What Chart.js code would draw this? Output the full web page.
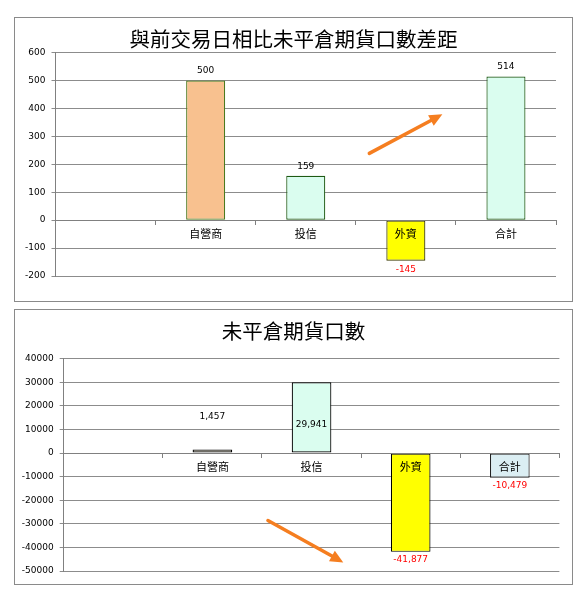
<!DOCTYPE html>
<html>
<head>
<meta charset="utf-8">
<script src="https://cdn.jsdelivr.net/npm/chart.js@4"></script>
<style>
  body { margin: 0; background: #fff; }
  .box { position: absolute; left: 14px; width: 559px; box-sizing: border-box; border: 1px solid #8a8a8a; }
  #box1 { top: 17px; height: 285px; }
  #box2 { top: 309px; height: 276px; }
  canvas { display: block; }
</style>
</head>
<body>
<div class="box" id="box1"><canvas id="diffChart" width="557" height="283"></canvas></div>
<div class="box" id="box2"><canvas id="openChart" width="557" height="274"></canvas></div>
<script>
// categories (first slot is empty, like the sheet)
var categories = ['', '自營商', '投信', '外資', '合計'];
// difference vs previous trading day
var diffValues = [null, 500, 159, -145, 514];
// open interest
var openValues = [null, 1457, 29941, -41877, -10479];
var diffTicks = [600, 500, 400, 300, 200, 100, 0, -100, -200];
var openTicks = [40000, 30000, 20000, 10000, 0, -10000, -20000, -30000, -40000, -50000];

var tickFont = { family: 'DejaVu Sans', size: 9 };
var catFont = { family: 'Noto Sans CJK TC', size: 11 };
var gridColor = '#8c8c8c';

// value labels: black above positive bars, red below negative ones
var valueLabels = {
    id: 'valueLabels',
    afterDraw: function (chart, args, opts) {
        var ctx = chart.ctx;
        var meta = chart.getDatasetMeta(0);
        var data = chart.data.datasets[0].data;
        ctx.save();
        ctx.font = '9px "DejaVu Sans"';
        ctx.textAlign = 'center';
        ctx.textBaseline = 'middle';
        meta.data.forEach(function (bar, i) {
            var v = data[i];
            if (v == null) return;
            var shift = (opts.shift && opts.shift[i]) || 0;
            var text = opts.comma ? v.toLocaleString('en-US') : String(v);
            if (v >= 0) {
                ctx.fillStyle = '#000';
                ctx.fillText(text, bar.x, bar.y - opts.gap - shift);
            } else {
                ctx.fillStyle = '#ff0000';
                ctx.fillText(text, bar.x, bar.y + opts.gap);
            }
        });
        ctx.restore();
    }
};

// orange trend arrow, given in category index / value units
var trendArrow = {
    id: 'trendArrow',
    afterDraw: function (chart, args, opts) {
        var x = chart.scales.x, y = chart.scales.y, ctx = chart.ctx;
        var x1 = x.getPixelForValue(opts.from[0]), y1 = y.getPixelForValue(opts.from[1]);
        var x2 = x.getPixelForValue(opts.to[0]), y2 = y.getPixelForValue(opts.to[1]);
        var ang = Math.atan2(y2 - y1, x2 - x1);
        var head = 13;
        var bx = x2 - head * Math.cos(ang), by = y2 - head * Math.sin(ang);
        ctx.save();
        ctx.strokeStyle = opts.color;
        ctx.fillStyle = opts.color;
        ctx.lineWidth = 3.5;
        ctx.lineCap = 'round';
        ctx.beginPath();
        ctx.moveTo(x1, y1);
        ctx.lineTo(bx, by);
        ctx.stroke();
        ctx.beginPath();
        ctx.moveTo(x2, y2);
        ctx.lineTo(bx + 6 * Math.sin(ang), by - 6 * Math.cos(ang));
        ctx.lineTo(bx - 6 * Math.sin(ang), by + 6 * Math.cos(ang));
        ctx.closePath();
        ctx.fill();
        ctx.restore();
    }
};

function makeChart(id, values, ticks, o) {
    return new Chart(id, {
        type: 'bar',
        data: {
            labels: categories,
            datasets: [{
                data: values,
                backgroundColor: o.colors,
                borderColor: o.borders,
                borderWidth: 1.2,
                borderSkipped: false,
                categoryPercentage: 1,
                barPercentage: o.barPct
            }]
        },
        plugins: [valueLabels, trendArrow],
        options: {
            responsive: false,
            animation: false,
            layout: { autoPadding: false, padding: { top: 0, left: 0, right: 0, bottom: o.bottomPad } },
            plugins: {
                legend: { display: false },
                tooltip: { enabled: false },
                title: {
                    display: true,
                    text: o.title,
                    color: '#000',
                    font: { family: 'Noto Sans CJK TC', size: 20.5, weight: 'normal', lineHeight: 1.2 },
                    padding: o.titlePad
                },
                valueLabels: o.labels,
                trendArrow: o.arrow
            },
            scales: {
                x: {
                    position: { y: 0 },
                    grid: { drawOnChartArea: false, drawTicks: true, tickLength: 4, offset: true, color: '#808080', z: 1 },
                    border: { color: '#808080', z: 1 },
                    ticks: { color: '#000', font: catFont, padding: 3, z: 1 }
                },
                y: {
                    min: ticks[ticks.length - 1],
                    max: ticks[0],
                    afterFit: function (s) { s.width = o.axisWidth; },
                    grid: { color: gridColor, tickLength: 4 },
                    border: { color: '#808080' },
                    ticks: {
                        stepSize: ticks[0] - ticks[1], color: '#000', font: tickFont, padding: 6,
                        callback: function (v) { return String(v); }
                    }
                },
                // empty right axis, only keeps a gap on the right without moving the title
                gap: {
                    type: 'linear',
                    position: 'right',
                    grid: { display: false },
                    border: { display: false },
                    ticks: { display: false },
                    afterFit: function (s) { s.width = o.rightGap; }
                }
            }
        }
    });
}

makeChart('diffChart', diffValues, diffTicks, {
    title: '與前交易日相比未平倉期貨口數差距',
    colors: ['#fff', '#f8c18f', '#dafdef', '#ffff00', '#dafdef'],
    borders: ['#000', '#4d7a1f', '#1e5a14', '#3a3a00', '#1e5a14'],
    barPct: 0.39,
    bottomPad: 25,
    rightGap: 16,
    titlePad: { top: 9, bottom: 1 },
    axisWidth: 40.5,
    labels: { gap: 9.5, comma: false },
    arrow: { from: [2.635, 239], to: [3.365, 379], color: '#f57e20' }
});

makeChart('openChart', openValues, openTicks, {
    title: '未平倉期貨口數',
    colors: ['#fff', '#fff6dc', '#dafdef', '#ffff00', '#dbeef3'],
    borders: ['#000', '#000', '#000', '#000', '#222'],
    barPct: 0.4,
    bottomPad: 13,
    rightGap: 12.6,
    titlePad: { top: 9, bottom: 15 },
    axisWidth: 48.7,
    labels: { gap: 8, comma: true, shift: [0, 25, -50, 0, 0] },
    arrow: { from: [1.56, -28600], to: [2.32, -46350], color: '#f57e20' }
});
</script>
</body>
</html>
